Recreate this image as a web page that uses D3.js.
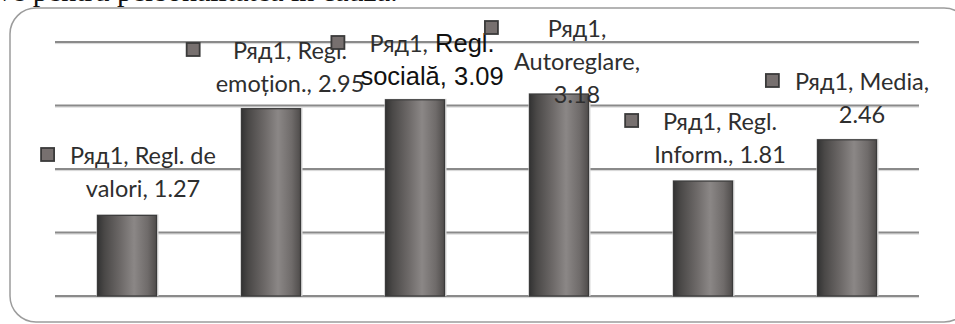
<!DOCTYPE html>
<html>
<head>
<meta charset="utf-8">
<script src="https://cdn.jsdelivr.net/npm/d3@7"></script>
<style>
  html, body { margin: 0; padding: 0; background: #fff; }
  svg { display: block; }
</style>
</head>
<body>
<svg id="chart" width="955" height="324"></svg>
<script>
// Series, categories and values
const seriesName = "Ряд1";
const categories = ["Regl. de valori", "Regl. emoțion.", "Regl. socială", "Autoreglare", "Regl. Inform.", "Media"];
const values = [1.27, 2.95, 3.09, 3.18, 1.81, 2.46];
const yTicks = [0, 1, 2, 3, 4];
// words per line for each data label
const labelWrap = [[3, 2], [2, 2], [2, 2], [1, 1, 1], [2, 2], [2, 1]];
// Arial-styled words inside the third label
const arialWords = ["Regl.", "socială,", "3.09"];

const W = 955, H = 324;
const svg = d3.select("#chart");

const margin = { left: 55, right: 36, top: 42, bottom: 28 };
const x = d3.scaleBand().domain(categories).range([margin.left, W - margin.right]).paddingInner(0.59).paddingOuter(0.295);
const y = d3.scaleLinear().domain([0, 4]).range([H - margin.bottom, margin.top]);

// paragraph text above the chart frame (only its lower part is in view)
svg.append("text")
  .attr("x", -3).attr("y", 1)
  .attr("font-family", "'Liberation Serif', 'Times New Roman', serif")
  .attr("font-size", 30).attr("fill", "#111")
  .text("ve pentru personalitatea în cauză.");

// rounded chart frame
svg.append("rect")
  .attr("x", 10).attr("y", 8).attr("width", 960).attr("height", 314)
  .attr("rx", 26).attr("ry", 26)
  .attr("fill", "none").attr("stroke", "#9c9c9c").attr("stroke-width", 1.5);

// bar gradient (cylinder look)
const defs = svg.append("defs");
const grad = defs.append("linearGradient").attr("id", "barGrad")
  .attr("x1", "0%").attr("x2", "100%").attr("y1", "0%").attr("y2", "0%");
[["0%", "#333333"], ["12%", "#4a4847"], ["40%", "#6e6a69"], ["62%", "#8b8786"], ["85%", "#6f6b6a"], ["100%", "#4f4c4b"]]
  .forEach(([o, c]) => grad.append("stop").attr("offset", o).attr("stop-color", c));

// horizontal gridlines
const grid = svg.append("g");
grid.selectAll("line.soft").data(yTicks).join("line")
  .attr("class", "soft")
  .attr("x1", margin.left).attr("x2", W - margin.right)
  .attr("y1", d => y(d) + 1.6).attr("y2", d => y(d) + 1.6)
  .attr("stroke", "#d6d6d6").attr("stroke-width", 1);
grid.selectAll("line.main").data(yTicks).join("line")
  .attr("class", "main")
  .attr("x1", margin.left).attr("x2", W - margin.right)
  .attr("y1", d => y(d)).attr("y2", d => y(d))
  .attr("stroke", "#8a8a8a").attr("stroke-width", 2);

// bars
const bars = svg.append("g");
bars.selectAll("rect.shadow").data(values).join("rect")
  .attr("class", "shadow")
  .attr("x", (d, i) => x(categories[i]) - 1)
  .attr("y", d => y(d) - 1)
  .attr("width", x.bandwidth() + 3)
  .attr("height", d => y(0) - y(d) + 1)
  .attr("fill", "#d9d9d9");
bars.selectAll("rect.bar").data(values).join("rect")
  .attr("class", "bar")
  .attr("x", (d, i) => x(categories[i]))
  .attr("y", d => y(d))
  .attr("width", x.bandwidth())
  .attr("height", d => y(0) - y(d))
  .attr("fill", "url(#barGrad)")
  .attr("stroke", "#3a3a3a").attr("stroke-width", 1.2);

// data label placement: text centre offset from bar centre, first baseline
const labelPos = [
  { dx: 16, y: 164 },
  { dx: 19, y: 59 },
  { dx: 17, y: 52 },
  { dx: 18, y: 37 },
  { dx: 17, y: 130 },
  { dx: 15, y: 90 }
];
const lineStep = 33;

const labels = svg.append("g");
values.forEach((v, i) => {
  const words = `${seriesName}, ${categories[i]}, ${v.toFixed(2)}`.split(" ");
  const lines = [];
  let k = 0;
  labelWrap[i].forEach(n => { lines.push(words.slice(k, k + n)); k += n; });
  const cx = x(categories[i]) + x.bandwidth() / 2 + labelPos[i].dx;
  const g = labels.append("g");
  let minLeft = Infinity;
  lines.forEach((ws, li) => {
    const t = g.append("text")
      .attr("x", cx).attr("y", labelPos[i].y + li * lineStep)
      .attr("text-anchor", "middle")
      .attr("font-family", "Lato, 'Open Sans', sans-serif")
      .attr("font-size", 23.5).attr("fill", "#2e2e2e");
    ws.forEach((w, wi) => {
      const arial = i === 2 && arialWords.includes(w);
      t.append("tspan")
        .attr("font-family", arial ? "'Liberation Sans', Arial, sans-serif" : null)
        .attr("font-size", arial ? 25.5 : null)
        .attr("fill", arial ? "#111" : null)
        .text((wi > 0 ? " " : "") + w);
    });
    const len = t.node().getComputedTextLength();
    minLeft = Math.min(minLeft, cx - len / 2);
  });
  // legend key square
  g.append("rect")
    .attr("x", minLeft - 29).attr("y", labelPos[i].y - 16)
    .attr("width", 13).attr("height", 13)
    .attr("fill", "#77706f").attr("stroke", "#3a3a3a").attr("stroke-width", 1.8);
});
</script>
</body>
</html>
